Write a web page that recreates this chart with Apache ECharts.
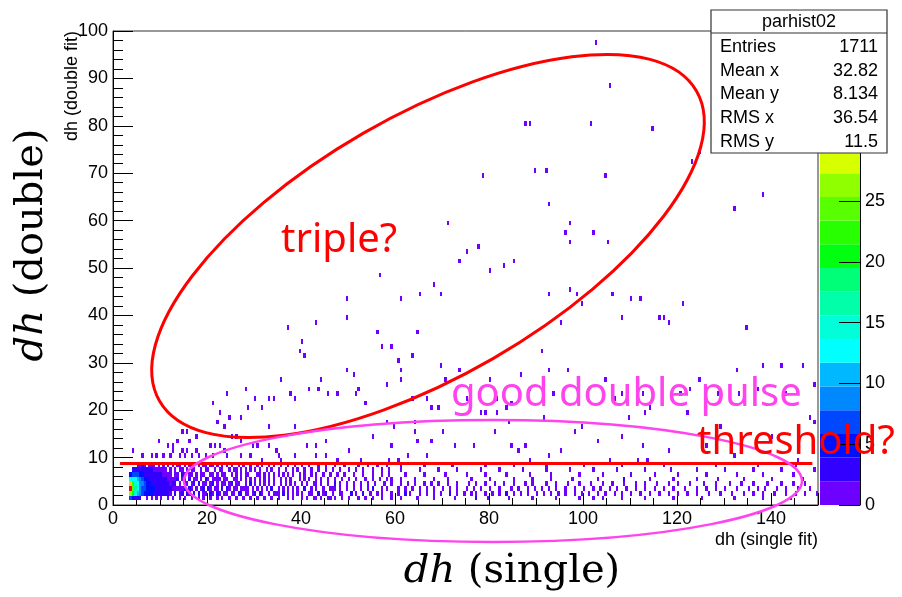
<!DOCTYPE html>
<html><head><meta charset="utf-8">
<script src="https://cdn.jsdelivr.net/npm/echarts@6/dist/echarts.min.js"></script>
<style>html,body{margin:0;padding:0;background:#fff}#c{width:902px;height:597px}</style>
</head><body><div id="c"></div>
<script>
// ---------------- DATA ----------------
const xTicks = [0, 20, 40, 60, 80, 100, 120, 140];
const yTicks = [0, 10, 20, 30, 40, 50, 60, 70, 80, 90, 100];
const zTicks = [0, 5, 10, 15, 20, 25];
const zMax = 39;
const statsTitle = 'parhist02';
const statsNames = ['Entries', 'Mean x', 'Mean y', 'RMS x', 'RMS y'];
const statsValues = ['1711', '32.82', '8.134', '36.54', '11.5'];

// dense core: [x bin low edge, y bin low edge, count]
const core = [
 [3.5,1,6],[3.5,2,27],[3.5,3,39],[3.5,4,32],[3.5,5,12],[3.5,6,4],
 [4,1,4],[4,2,20],[4,3,24],[4,4,22],[4,5,13],[4,6,6],[4,7,2],
 [4.5,1,3],[4.5,2,14],[4.5,3,16],[4.5,4,15],[4.5,5,12],[4.5,6,7],[4.5,7,3],
 [5,1,2],[5,2,11],[5,3,13],[5,4,12],[5,5,10],[5,6,6],[5,7,3],[5,8,1],
 [5.5,1,2],[5.5,2,8],[5.5,3,9],[5.5,4,9],[5.5,5,8],[5.5,6,5],[5.5,7,2],[5.5,8,1],
 [6,2,7],[6,3,7],[6,4,8],[6,5,6],[6,6,4],[6,7,2],[6,8,2],
 [6.5,2,5],[6.5,3,6],[6.5,4,6],[6.5,5,5],[6.5,6,3],[6.5,7,2],[6.5,8,1],
 [7,1,1],[7,2,5],[7,3,5],[7,4,5],[7,5,4],[7,6,3],[7,7,2],
 [7.5,2,4],[7.5,3,4],[7.5,4,4],[7.5,5,3],[7.5,6,3],[7.5,7,2],[7.5,8,1],
 [8,1,1],[8,2,4],[8,3,4],[8,4,3],[8,5,3],[8,6,2],[8,7,2],[8,8,1],
 [8.5,2,3],[8.5,3,4],[8.5,4,3],[8.5,5,3],[8.5,6,2],[8.5,7,1],[8.5,8,1],
 [9,1,1],[9,2,3],[9,3,3],[9,4,3],[9,5,2],[9,6,2],[9,7,1],
 [9.5,2,3],[9.5,3,3],[9.5,4,3],[9.5,5,2],[9.5,6,2],[9.5,7,1],[9.5,8,1],
 [10,1,1],[10,2,3],[10,3,3],[10,4,2],[10,5,2],[10,6,2],[10,7,1],
 [10.5,2,2],[10.5,3,3],[10.5,4,2],[10.5,5,2],[10.5,6,1],[10.5,7,1],[10.5,8,1],
 [11,2,2],[11,3,2],[11,4,2],[11,5,2],[11,6,1],[11,7,1],
 [11.5,1,1],[11.5,2,2],[11.5,3,2],[11.5,4,2],[11.5,5,1],[11.5,6,1],[11.5,8,1]
];
// extra counts on top of the single-entry rows: [x, y, extra count]
const extra = [
 [12,3,2],[12.5,4,2],[13,2,2],[13.5,5,1],[14,3,1],[14.5,2,2],[15,4,1],[16,3,1],
 [17,2,1],[18,4,1],[19,3,1],[20.5,2,1],[22,5,1],[24,3,1],[27,2,1],[30,2,1],
 [35,2,1],[45,2,1],[46.5,3,1],[50.5,2,1],[83.5,2,1],[108.5,5,1],[77,1,1],
 [12,5,1],[13,4,1],[14.5,6,1],[15,3,1],[15.5,2,1],[16,5,1],[17,4,1],[18,2,1],[19.5,5,1],
 [20,3,1],[21,4,1],[22,2,1],[23,3,1],[25,4,1],[26.5,2,1],[28,3,1],[29,4,1],[31,2,1],
 [33.5,3,1],[36,2,1],[40.5,3,1],[43.5,2,1],[47,4,1],[53,2,1],[55,3,1],[62,2,1],[71.5,2,1]
];
// single-entry cells in the band below threshold, x bin low edges per y row
const row1 = [12.5,14,15,16.5,18,19,20.5,22,23,24.5,26,27.5,29,30.5,32,33.5,35,37,38,40,41,42.5,43,44,45.5,46,47,48.5,50,52,53.5,55,57,59,61,64.5,68,72.5,77,79.5,84,89,94,99,102,104,108,113,119,125,132,138,144];
const row2 = [12,13,14,14.5,15.5,16,17,18,19,19.5,20.5,21,22,22.5,23.5,24,25,25.5,26.5,27,28,28.5,29.5,30,31,31.5,33,34,34.5,36,37,38,39,40,41.5,42,43.5,44.5,45,46.5,48,48.5,50.5,51.5,53,54.5,56,57,59,60.5,62,63,65,66.5,68,69.5,71.5,73,74.5,76,77,79,80.5,82,83.5,85,86.5,88,90,91.5,93,94.5,96,98,99.5,101,103,104.5,106.5,108,110,112,114,116,118,120,122,124,126.5,129,131.5,134,136,138,140.5,143,145,147,149.5];
const row3 = [12.5,13,13.5,14.5,15,16,16.5,17.5,18.5,19,20,20.5,21.5,22,23,24,24.5,25.5,26,27,27.5,28.5,29.5,30.5,31.5,32.5,33.5,35,36,37,38,39,40.5,42,43,44.5,46,47,48,49.5,51,52.5,54,55,57,58,60.5,62,63.5,65,66.5,68,70,71.5,73,75,76.5,78,80,82,84.5,86,88,89.5,91,92.5,94,96,98,100,102,103.5,105.5,107,109,111,113,115,117,119,121.5,124,126,128,130,132.5,135,137,138.5,141,143,145.5,148];
const row4 = [12,12.5,13,14,15,15.5,16.5,17,18,19,19.5,20.5,21,22,23,23.5,24.5,25,26,26.5,28,29,30,31,32,33,34,35.5,36.5,37.5,38.5,40,41,42.5,43,44,45.5,47,48,49.5,51,52.5,54,55.5,57.5,59,61,62.5,64,66,67.5,69,71,73,75.5,77,79,81,83,85,87.5,89,92,94,96.5,99,101.5,104,106,108.5,111,113,115.5,118,120,122.5,125.5,128,131,133.5,136,139,142,144.5,147];
const row5 = [12.5,13,13.5,14.5,15,16,17,17.5,18.5,19.5,20,21,21.5,22.5,23.5,24,25.5,26,27,28,29,30,31,32,33,34,35.5,36.5,37.5,39.5,40.5,41.5,43,44,45.5,47,48.5,50,51.5,53.5,55,56.5,58,59,61,64,68,71,76,80,85,89,93,97.5,103,108.5,114,119,124,128.5,134,140,146.5];
const row6 = [12,13,13.5,14.5,15,16,16.5,17.5,18.5,19,20.5,21,22,23,23.5,25,26,27,28,28.5,30.5,31,32,33,34,35,36,37,38,39.5,40.5,42,43,44.5,46,47.5,49,51,53,55,57,58.5,62,66,70.5,75,79,83.5,88.5,93,99,104,110,115,120,126,132.5,138,144.5];
const row7 = [12,13,14,14.5,15.5,16.5,17,18.5,19.5,20,21.5,22.5,23,24.5,25.5,26,27,28,29,30,31,32.5,33.5,35,36.5,38,39,40.5,42,43.5,45,46.5,48,50,51.5,53,55,57,58.5,61,65,69,73,78,82,87,92,97,102,107,113,118.5,124,130,136,142,149];
const row8 = [12.5,13.5,14,15,16,16.5,18,19,19.5,20.5,21,22,23,24,25,26.5,27.5,29,30.5,31.5,33,34,35.5,37,38.5,40,41.5,43.5,45,47,49,52,54,56,58,61,66,72,79,85,92,100,108,117,128,137,145];
// single-entry cells above the threshold line: [x, y]
const sparse = [
 [102.5,97],[105.5,88],[87.5,80],[88.5,80],[101.5,80],[114.5,79],[124.5,74],[123,72],[78.5,69],[89.5,70],[92,70],[104.5,69],
 [92.5,63],[71,59],[97,59],[96,57],[102,57],[97,55],[105,55],[77.5,54],[75,53],[73.5,51],[83,50],[138,65],[132,62],
 [56.5,48],[49.5,43],[61,43],[65,44],[68,46],[69.5,44],[80,49],[85,51],[92.5,44],[97,45],[98.5,44],[99.5,42],[106,44],
 [108,39],[110,43],[112,43],[116,39],[117,39],[118,38],[121,42],[134.5,37],[138,29],[142,29],[146.5,29],[95,38],[91,32],
 [92.5,28],[96.5,28],[37,37],[43,38],[49.5,39],[39.5,32],[40,34],[40.5,31],[44,26],[41.5,24],[35.5,26],[34,22],[31.5,20],
 [28.5,20],[27,18],[24.5,18],[49.5,28],[51,27],[51.5,23],[56,36],[57,33],[59,33],[60.5,30],[61,26],[63.5,31],[64.5,36],
 [69.5,29],[70.5,26],[73.5,28],[80,26],[81.5,22],[84.5,21],[104.5,26],[106.5,22],[108,23],[116.5,26],[120.5,23],[124.5,26],
 [128.5,23],[132.5,28],[21,21],[22.5,19],[24,23],[28,24],[30,22],[33,22],[37.5,23],[38.5,22],[43.5,24],[45.5,23],[47.5,23],
 [52,24],[53.5,21],[58,25],[61,28],[63.5,22],[66.5,22],[67.5,20],[75,22],[78,19],[86.5,27],[88.5,24],[93.5,23],[98.5,24],
 [112.5,23],[114,20],[122.5,24],[133,23],[137,24],[143,23],[149,25],
 [22,17],[23.5,16],[14.5,15],[15.5,15],[9.5,13],[13.5,13],[16,13],[17.5,14],[20.5,12],[21.5,12],[22.5,12],[11.5,12],
 [12.5,12],[12.5,11],[12,10],[8,10],[9,10],[10.5,10],[14.5,11],[15.5,11],[16.5,10],[17.5,11],[18,10],[19.5,10],[21,10],
 [4,11],[6,10],[14,10],[15,10],[23.5,11],[24,10],[26,14],[27,13],[29.5,12],[30.5,12],[27,10],[29,10],[31.5,9],[33,12],
 [34.5,11],[35.5,9],[38.5,10],[41,12],[43,12],[45,13],[43,10],[47.5,9],[45,10],[33,16],[38.5,16],[35,10],[25,14],
 [59,12],[59.5,16],[64,15],[64.5,13],[67.5,13],[62.5,10],[66.5,10],[52.5,9],[58.5,9],[60.5,9],[58,17],[64,17],
 [84,17],[81,15],[98,15],[76.5,12],[84.5,12],[87.5,12],[86,11],[92.5,10],[88.5,9],[72.5,12],[99.5,16],[91.5,18],
 [109.5,18],[108,14],[112.5,12],[113,19],[122,19],[132,10],[145.5,9],[148,18],[149,17],[105.5,9],[111.5,9],[113.5,9],
 [83.5,20],[81.5,19],[79,19],[69,20],[129,16],[140,14],[118,11],[126,12],[103,13],[95,11],[55,14],[50,11],[70,15]
];
const thresholdY = 8.9;
const thresholdFrom = 1.5, thresholdTo = 148.8;

// ---------------- BUILD ----------------
const binW = 0.5, binH = 1;
const palette = ['#6e00ff','#3200ff','#0010ff','#0048ff','#0088ff','#00b8ff','#00ffff','#00ffd8','#00ffa8','#00ff78',
                 '#00ff10','#28ff00','#58ff00','#90ff00','#d8ff00','#ffff00','#ffc800','#ff8c00','#ff4600','#ff0000'];
const cellMap = new Map();
function add(x, y, c) { const k = x + '_' + y; cellMap.set(k, (cellMap.get(k) || 0) + c); }
core.forEach(d => add(d[0], d[1], d[2]));
[row1,row2,row3,row4,row5,row6,row7,row8].forEach((r, i) => r.forEach(x => add(x, i + 1, 1)));
extra.forEach(d => add(d[0], d[1], d[2]));
sparse.forEach(d => add(d[0], d[1], 1));
const cells = [];
cellMap.forEach((c, k) => { const p = k.split('_'); cells.push([+p[0], +p[1], c]); });
function colorFor(c) { return palette[Math.min(19, Math.floor(c / zMax * 20))]; }
const bands = palette.map((c, i) => [i]);

const FONT = 'Liberation Sans';
const chart = echarts.init(document.getElementById('c'), null, {renderer: 'canvas'});
chart.setOption({
  animation: false,
  grid: [
    {left: 113, top: 31, width: 705, height: 474, show: true, borderColor: '#333', borderWidth: 1, backgroundColor: 'transparent'},
    {left: 820, top: 31, width: 40, height: 474, show: false}
  ],
  xAxis: [
    {gridIndex: 0, type: 'value', min: 0, max: 150, interval: 20,
     axisLine: {show: true, onZero: false, lineStyle: {color: '#000', width: 1}},
     axisTick: {show: true, inside: true, length: 12, lineStyle: {color: '#000'}},
     minorTick: {show: true, splitNumber: 4, length: 7, lineStyle: {color: '#000'}},
     splitLine: {show: false},
     axisLabel: {fontSize: 18, color: '#000', fontFamily: FONT, margin: 5, showMaxLabel: false,
       formatter: v => xTicks.includes(v) ? String(v) : ''}},
    {gridIndex: 1, type: 'value', min: 0, max: 1, show: false}
  ],
  yAxis: [
    {gridIndex: 0, type: 'value', min: 0, max: 100, interval: 10,
     axisLine: {show: true, onZero: false, lineStyle: {color: '#000', width: 1}},
     axisTick: {show: true, inside: true, length: 20, lineStyle: {color: '#000'}},
     minorTick: {show: true, splitNumber: 5, length: 10, lineStyle: {color: '#000'}},
     splitLine: {show: false},
     axisLabel: {fontSize: 18, color: '#000', fontFamily: FONT, margin: 5,
       formatter: v => yTicks.includes(v) ? String(v) : ''}},
    {gridIndex: 1, type: 'value', min: 0, max: zMax, interval: 5, position: 'right', z: 10,
     axisLine: {show: true, onZero: false, lineStyle: {color: '#000', width: 1}},
     axisTick: {show: true, inside: true, length: 21, lineStyle: {color: '#000'}},
     splitLine: {show: false},
     axisLabel: {fontSize: 18, color: '#000', fontFamily: FONT, margin: 5, showMaxLabel: false,
       formatter: v => zTicks.includes(v) ? String(v) : ''}}
  ],
  series: [
    {type: 'custom', xAxisIndex: 0, yAxisIndex: 0, data: cells, clip: true, z: 2,
     renderItem: function (params, api) {
       const x = api.value(0), y = api.value(1);
       const p0 = api.coord([x, y]), p1 = api.coord([x + binW, y + binH]);
       const x0 = Math.round(p0[0]), x1 = Math.round(p1[0]);
       const y0 = Math.round(p0[1]), y1 = Math.round(p1[1]);
       return {type: 'rect', shape: {x: x0, y: y1, width: Math.max(2, x1 - x0), height: Math.max(4, y0 - y1)},
               style: {fill: colorFor(api.value(2))}};
     },
     markLine: {silent: true, symbol: 'none', label: {show: false}, z: 5,
       lineStyle: {color: '#ff0000', width: 3, type: 'solid'},
       data: [[{coord: [thresholdFrom, thresholdY]}, {coord: [thresholdTo, thresholdY]}]]}
    },
    {type: 'custom', xAxisIndex: 1, yAxisIndex: 1, data: bands, z: 2,
     renderItem: function (params, api) {
       const k = api.value(0);
       const p0 = api.coord([0, k * zMax / 20]), p1 = api.coord([1, (k + 1) * zMax / 20]);
       return {type: 'rect', shape: {x: p0[0], y: p1[1], width: p1[0] - p0[0], height: p0[1] - p1[1]},
               style: {fill: palette[k]}};
     }}
  ],
  graphic: [
    {type: 'ellipse', x: 428, y: 246, rotation: 30 * Math.PI / 180, z: 50,
     shape: {cx: 0, cy: 0, rx: 310, ry: 130}, style: {fill: 'none', stroke: '#ff0000', lineWidth: 3}},
    {type: 'ellipse', x: 493, y: 481, z: 50,
     shape: {cx: 0, cy: 0, rx: 309, ry: 61}, style: {fill: 'none', stroke: '#ff44ee', lineWidth: 2.5}},
    {type: 'group', z: 60, children: [
      {type: 'rect', shape: {x: 711, y: 10, width: 176, height: 143}, style: {fill: '#fff', stroke: '#333', lineWidth: 1.2}, z: 60},
      {type: 'line', shape: {x1: 711, y1: 33, x2: 887, y2: 33}, style: {stroke: '#333', lineWidth: 1.2}, z: 61},
      {type: 'text', x: 799, y: 22, z: 61, style: {text: statsTitle, fontSize: 18, fontFamily: FONT, fill: '#000', align: 'center', verticalAlign: 'middle'}},
      ...statsNames.map((n, i) => ({type: 'text', x: 720, y: 47 + i * 23.7, z: 61,
        style: {text: n, fontSize: 18, fontFamily: FONT, fill: '#000', align: 'left', verticalAlign: 'middle'}})),
      ...statsValues.map((v, i) => ({type: 'text', x: 878, y: 47 + i * 23.7, z: 61,
        style: {text: v, fontSize: 18, fontFamily: FONT, fill: '#000', align: 'right', verticalAlign: 'middle'}}))
    ]},
    {type: 'text', x: 72, y: 31, rotation: Math.PI / 2, z: 40,
     style: {text: 'dh (double fit)', fontSize: 18, fontFamily: FONT, fill: '#000', align: 'right', verticalAlign: 'middle'}},
    {type: 'text', x: 818, y: 540, z: 40,
     style: {text: 'dh (single fit)', fontSize: 18, fontFamily: FONT, fill: '#000', align: 'right', verticalAlign: 'middle'}},
    {type: 'text', x: 32, y: 245, rotation: Math.PI / 2, z: 40,
     style: {text: '{i|dh} (double)', fontSize: 40, fontFamily: 'DejaVu Serif', fill: '#000', align: 'center', verticalAlign: 'middle',
             rich: {i: {fontStyle: 'italic', fontSize: 40, fontFamily: 'DejaVu Serif', fill: '#000'}}}},
    {type: 'text', x: 512, y: 572, z: 40,
     style: {text: '{i|dh} (single)', fontSize: 40, fontFamily: 'DejaVu Serif', fill: '#000', align: 'center', verticalAlign: 'middle',
             rich: {i: {fontStyle: 'italic', fontSize: 40, fontFamily: 'DejaVu Serif', fill: '#000'}}}},
    {type: 'text', x: 281, y: 241, z: 70,
     style: {text: 'triple?', fontSize: 40, fontFamily: 'Noto Sans', fill: '#ff0000', align: 'left', verticalAlign: 'middle'}},
    {type: 'text', x: 451, y: 395, z: 70,
     style: {text: 'good double pulse', fontSize: 40, fontFamily: 'Noto Sans', fill: '#ff44ee', align: 'left', verticalAlign: 'middle'}},
    {type: 'text', x: 697, y: 443, z: 70,
     style: {text: 'threshold?', fontSize: 40, fontFamily: 'Noto Sans', fill: '#ff0000', align: 'left', verticalAlign: 'middle'}}
  ]
});
</script>
</body></html>
